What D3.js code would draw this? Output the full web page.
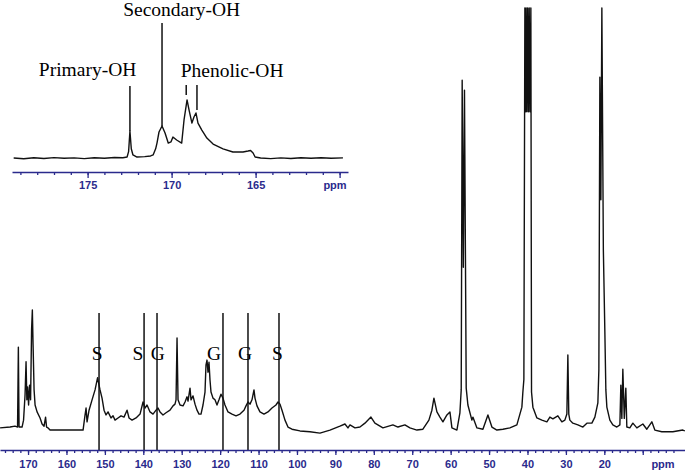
<!DOCTYPE html>
<html>
<head>
<meta charset="utf-8">
<script src="https://cdn.jsdelivr.net/npm/d3@7"></script>
<style>
body { margin: 0; background: #fff; }
svg { display: block; }
.peak-label { font-family: "Liberation Serif", "Times New Roman", serif; font-size: 19.5px; fill: #000; }
.axis text, .ppm { font-family: "Liberation Sans", Arial, sans-serif; font-size: 11px; font-weight: bold; fill: #2a2a8c; }
.axis path, .axis line { stroke: #2a2a8c; stroke-width: 1.3; }
.spectrum { fill: none; stroke: #111; stroke-width: 1.4; stroke-linejoin: round; }
.marker { stroke: #111; stroke-width: 1.5; }
</style>
</head>
<body>
<div class="chart"></div>
<script>
// full 13C spectrum, [ppm, intensity]
const mainSpectrum = [
    [177.28, 2.8], [174.68, 3.0], [173.38, 3.2], [172.73, 3.0], [172.52, 21.5], [172.34, 3.0],
    [171.56, 3.0], [171.17, 4.6], [170.78, 10.4], [170.52, 18.1], [170.31, 9.3], [170.12, 12.3],
    [169.86, 8.1], [169.60, 12.7], [169.34, 9.3], [169.08, 25.5], [168.88, 30.1], [168.69, 22.0],
    [168.43, 11.6], [168.17, 8.1], [167.65, 6.5], [166.87, 5.1], [166.35, 3.7], [165.83, 3.2],
    [165.44, 5.3], [165.18, 3.0], [164.79, 2.8], [164.27, 2.3], [161.67, 2.3], [159.07, 2.3],
    [155.68, 2.3], [155.16, 5.8], [154.90, 7.4], [154.64, 4.2], [154.12, 6.9], [153.34, 9.3],
    [152.56, 11.6], [151.91, 14.4], [151.26, 11.6], [150.74, 9.7], [150.22, 6.9], [149.70, 5.8],
    [149.18, 6.5], [148.40, 5.1], [147.88, 5.6], [147.36, 4.6], [146.58, 5.1], [145.80, 5.6],
    [145.02, 5.3], [144.23, 6.9], [143.71, 5.1], [142.93, 4.6], [141.89, 5.1], [140.85, 6.0],
    [140.07, 8.8], [139.55, 7.4], [139.03, 8.1], [138.25, 6.5], [137.47, 6.0], [136.69, 6.9],
    [136.17, 7.4], [135.65, 6.5], [134.87, 5.8], [134.09, 6.3], [133.05, 6.9], [132.27, 7.9],
    [131.75, 8.3], [131.48, 9.3], [131.22, 23.6], [130.96, 9.3], [130.44, 8.1], [129.66, 7.9],
    [129.14, 8.8], [128.62, 10.0], [128.36, 9.0], [127.84, 12.0], [127.58, 9.3], [127.06, 10.2],
    [126.54, 8.3], [126.02, 6.9], [125.50, 6.0], [124.98, 6.0], [124.46, 8.1], [123.94, 11.1],
    [123.68, 17.4], [123.42, 18.5], [123.16, 15.7], [122.90, 18.0], [122.64, 13.9], [122.38, 11.1],
    [121.86, 9.7], [121.34, 9.3], [120.82, 8.1], [120.30, 9.3], [119.78, 10.6], [119.26, 9.7],
    [118.74, 8.1], [117.95, 6.5], [116.91, 6.0], [115.87, 5.6], [114.83, 6.0], [113.79, 6.9],
    [113.27, 7.9], [112.75, 8.8], [112.23, 8.3], [111.71, 9.3], [111.19, 11.6], [110.93, 9.7],
    [110.41, 7.9], [109.63, 6.5], [108.59, 6.0], [107.55, 6.5], [106.51, 7.4], [105.47, 8.1],
    [104.94, 8.8], [104.42, 8.3], [103.90, 6.9], [103.12, 4.6], [102.34, 3.0], [101.30, 2.5],
    [99.22, 2.1], [96.62, 1.9], [94.02, 1.6], [91.41, 2.3], [88.81, 3.2], [87.51, 3.7],
    [86.73, 2.8], [86.21, 3.5], [84.91, 2.8], [83.61, 3.0], [82.31, 3.9], [80.75, 5.3],
    [79.71, 3.9], [77.63, 2.8], [75.03, 3.5], [73.72, 3.0], [71.91, 3.5], [70.60, 2.8],
    [68.78, 2.3], [67.22, 2.5], [65.66, 4.6], [64.88, 6.9], [64.35, 9.7], [63.57, 6.5],
    [62.79, 5.3], [62.01, 4.2], [60.97, 5.8], [60.19, 6.5], [59.67, 2.8], [58.37, 2.3],
    [57.59, 6.3], [57.25, 11.6], [57.00, 83.3], [56.70, 40.0], [56.40, 81.0], [55.95, 12.0],
    [55.51, 8.1], [54.47, 4.6], [54.21, 5.3], [53.16, 2.8], [51.60, 2.5], [50.30, 5.8],
    [49.26, 3.0], [47.96, 2.3], [46.40, 2.5], [44.58, 2.8], [42.76, 3.5], [41.46, 7.6],
    [41.20, 11.1], [40.94, 14.0], [40.68, 100], [40.50, 76], [40.35, 100], [40.15, 76],
    [39.95, 100], [39.75, 76], [39.55, 100], [39.35, 76], [39.12, 100], [38.95, 11.1],
    [38.59, 7.6], [37.55, 5.1], [36.25, 4.6], [34.95, 4.2], [34.17, 5.3], [33.39, 4.9],
    [32.09, 5.6], [31.05, 4.2], [30.27, 4.6], [29.75, 6.0], [29.49, 19.7], [29.25, 6.0],
    [28.97, 4.6], [28.19, 3.9], [26.88, 3.5], [25.58, 3.0], [24.54, 3.9], [23.24, 3.9],
    [22.46, 5.3], [21.68, 8.6], [21.42, 16.2], [21.16, 84.0], [20.90, 55.6], [20.64, 100],
    [20.25, 44.0], [19.86, 25.0], [19.60, 11.6], [19.34, 7.6], [18.56, 4.6], [17.78, 3.5],
    [16.74, 3.0], [15.95, 3.5], [15.70, 12.7], [15.44, 5.0], [15.18, 16.4], [14.80, 5.0],
    [14.40, 12.0], [14.14, 3.0], [13.36, 2.8], [12.57, 3.9], [11.53, 2.8], [9.97, 3.7],
    [8.93, 2.5], [7.63, 4.2], [6.85, 2.3], [5.03, 1.9], [2.17, 1.9], [-0.43, 2.3], [-0.96, 2.1]
];

// S / G assignment lines: ppm, label, label ppm
const mainMarkers = [
    {ppm: 151.52, label: "S", at: 152.0},
    {ppm: 139.80, label: "S", at: 141.4},
    {ppm: 136.43, label: "G", at: 136.2},
    {ppm: 119.26, label: "G", at: 121.6},
    {ppm: 112.75, label: "G", at: 113.5},
    {ppm: 104.68, label: "S", at: 105.1}
];
const mainMarkerTop = 29.4;
const mainMajorTicks = [170, 160, 150, 140, 130, 120, 110, 100, 90, 80, 70, 60, 50, 40, 30, 20, 10];

// expanded carbonyl region (inset)
const insetSpectrum = [
    [179.4, 1.4], [178.8, 0.9], [178.2, 1.6], [177.6, 1.1], [177.0, 1.7], [176.4, 1.2],
    [175.8, 1.5], [175.2, 1.0], [174.6, 1.6], [174.0, 1.3], [173.4, 1.8], [172.9, 1.6],
    [172.65, 2.1], [172.56, 6.0], [172.48, 20.7], [172.40, 8.0], [172.30, 3.6], [172.06, 2.1],
    [171.6, 2.4], [171.25, 2.9], [171.1, 3.6], [170.95, 8.0], [170.87, 12.1], [170.75, 20.0],
    [170.57, 24.3], [170.39, 19.3], [170.2, 12.1], [170.04, 12.9], [169.92, 16.4], [169.7, 14.3],
    [169.4, 12.1], [169.26, 28.6], [169.08, 42.9], [168.96, 35.7], [168.79, 26.4], [168.67, 30.7],
    [168.55, 33.6], [168.43, 26.4], [168.2, 21.4], [167.9, 15.7], [167.53, 11.4], [166.94, 7.9],
    [166.35, 5.7], [165.75, 5.7], [165.45, 6.4], [165.3, 6.8], [165.15, 5.0], [165.03, 2.1],
    [164.7, 1.4], [164.1, 1.0], [163.5, 1.5], [162.9, 1.1], [162.3, 1.6], [161.7, 1.2],
    [161.1, 1.6], [160.5, 1.3], [159.8, 1.5]
];
const insetMarkers = [
    {ppm: 172.48, top: 52.9, bottom: 20.7},
    {ppm: 170.57, top: 97.9, bottom: 24.3},
    {ppm: 169.13, top: 53.6, bottom: 46.4},
    {ppm: 168.49, top: 53.6, bottom: 35.7}
];
const insetLabels = [
    {text: "Primary-OH", ppm: 175.0, y: 60.0},
    {text: "Secondary-OH", ppm: 169.4, y: 102.6},
    {text: "Phenolic-OH", ppm: 166.4, y: 59.3}
];
const insetMajorTicks = [175, 170, 165, 160];

const width = 685;
const height = 473;

const svg = d3.select('.chart').append('svg')
    .attr('width', width)
    .attr('height', height);

const x = d3.scaleLinear().domain([177.3, -1]).range([0, width]);
const y = d3.scaleLinear().domain([0, 100]).range([440, 8]);
const xIn = d3.scaleLinear().domain([179.5, 159.5]).range([12, 348]);
const yIn = d3.scaleLinear().domain([0, 100]).range([160, 20]);

function drawAxis(scale, yPos, majors, minors, majorLen, pad, fmt) {
    const g = svg.append('g')
        .attr('class', 'axis')
        .attr('transform', 'translate(0,' + yPos + ')');

    g.call(d3.axisBottom(scale).tickValues(minors).tickSize(3).tickSizeOuter(0).tickFormat(''));

    g.append('g')
        .call(d3.axisBottom(scale).tickValues(majors).tickSize(majorLen)
            .tickSizeOuter(0).tickPadding(pad).tickFormat(fmt))
        .call(s => s.select('.domain').remove());

    g.selectAll('text').attr('font-family', null).attr('font-size', null);
    return g;
}

// ---- main spectrum ----
const line = d3.line().x(d => x(d[0])).y(d => y(d[1]));

svg.selectAll('line.main-marker')
    .data(mainMarkers)
    .enter()
    .append('line')
    .attr('class', 'marker main-marker')
    .attr('x1', d => x(d.ppm)).attr('x2', d => x(d.ppm))
    .attr('y1', y(mainMarkerTop)).attr('y2', 450);

svg.append('path')
    .datum(mainSpectrum)
    .attr('class', 'spectrum')
    .attr('d', line);

svg.selectAll('text.main-label')
    .data(mainMarkers)
    .enter()
    .append('text')
    .attr('class', 'peak-label main-label')
    .attr('x', d => x(d.at))
    .attr('y', y(18.5))
    .attr('text-anchor', 'middle')
    .text(d => d.label);

drawAxis(x, 450, mainMajorTicks, d3.range(176, 0, -2), 5, 5, d => d === 10 ? '' : d);

svg.append('text')
    .attr('class', 'ppm')
    .attr('x', 663)
    .attr('y', 468)
    .attr('text-anchor', 'middle')
    .text('ppm');

// ---- inset ----
const lineIn = d3.line().x(d => xIn(d[0])).y(d => yIn(d[1]));

svg.append('path')
    .datum(insetSpectrum)
    .attr('class', 'spectrum')
    .attr('d', lineIn);

svg.selectAll('line.inset-marker')
    .data(insetMarkers)
    .enter()
    .append('line')
    .attr('class', 'marker inset-marker')
    .attr('x1', d => xIn(d.ppm)).attr('x2', d => xIn(d.ppm))
    .attr('y1', d => yIn(d.top)).attr('y2', d => yIn(d.bottom));

svg.selectAll('text.inset-label')
    .data(insetLabels)
    .enter()
    .append('text')
    .attr('class', 'peak-label inset-label')
    .attr('x', d => xIn(d.ppm))
    .attr('y', d => yIn(d.y))
    .attr('text-anchor', 'middle')
    .text(d => d.text);

drawAxis(xIn, 172, insetMajorTicks, d3.range(179, 159, -1), 6, 3, d => d === 160 ? '' : d);

svg.append('text')
    .attr('class', 'ppm')
    .attr('x', 335)
    .attr('y', 189)
    .attr('text-anchor', 'middle')
    .text('ppm');
</script>
</body>
</html>
